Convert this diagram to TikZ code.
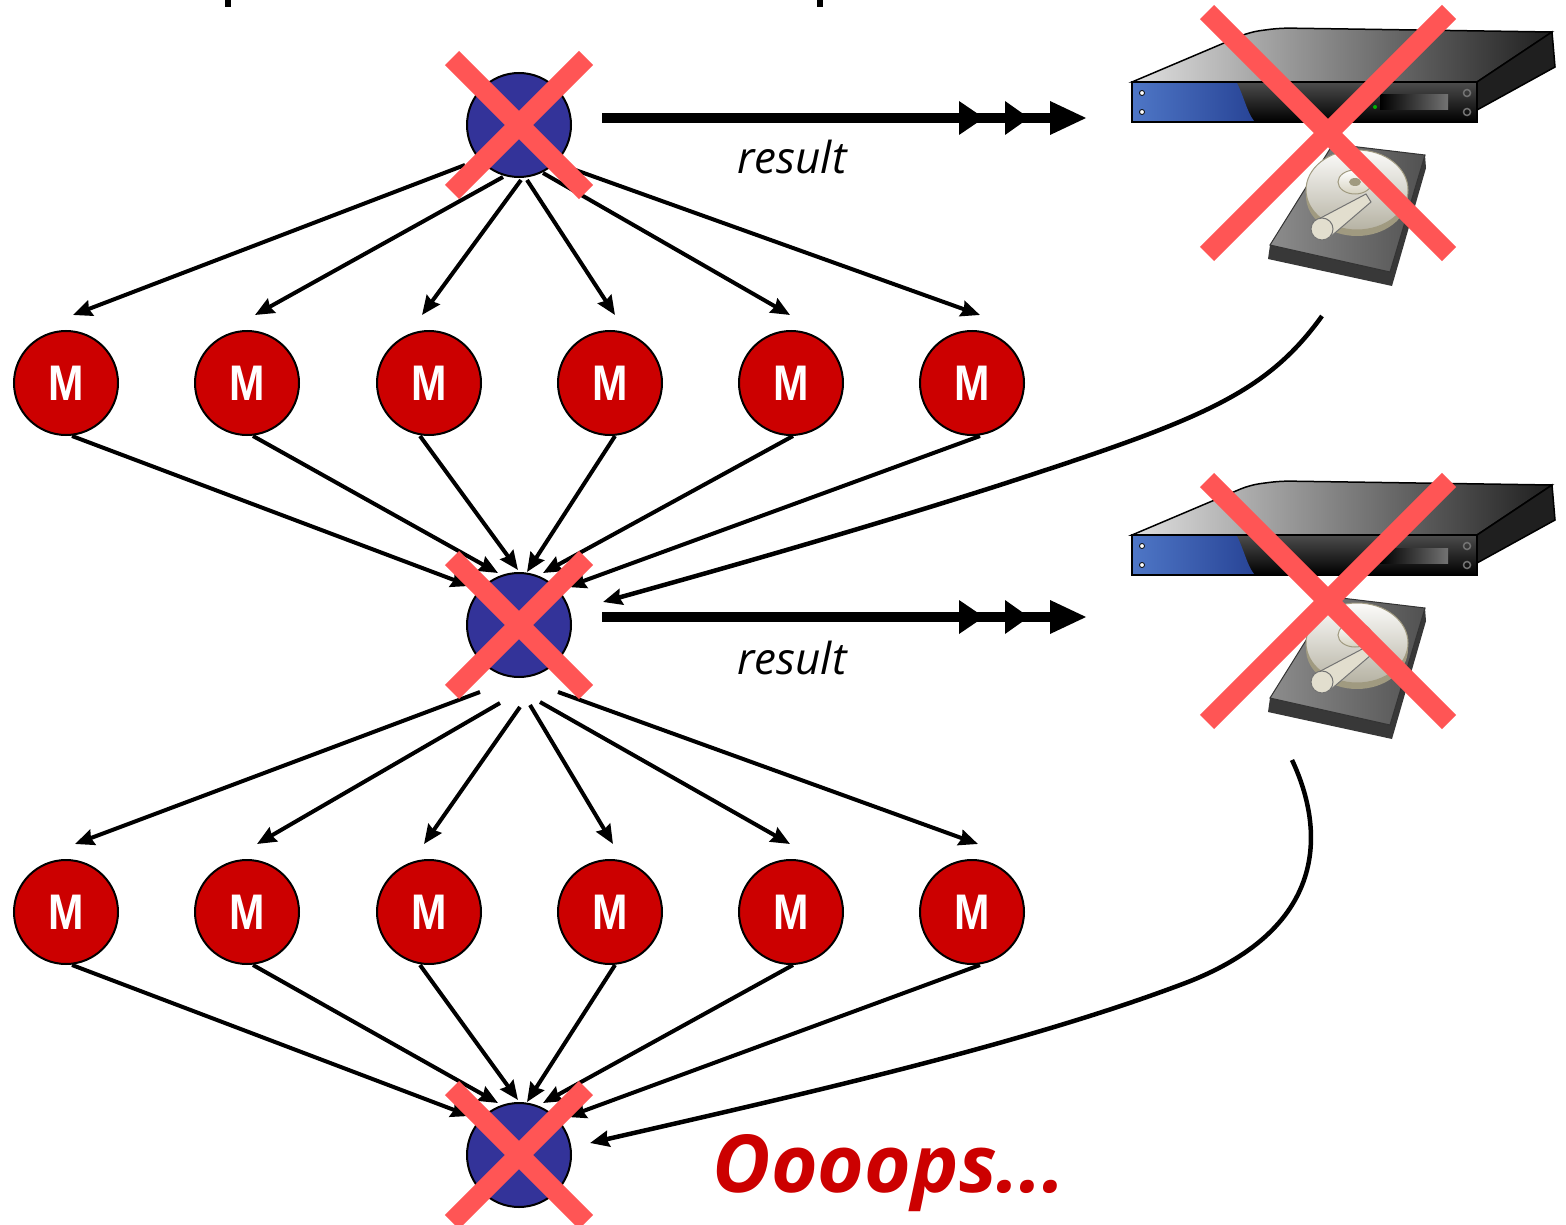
\documentclass[tikz,border=0pt]{standalone}
\usepackage{fontspec}
\setmainfont{Open Sans}
\newfontfamily\mfont{Liberation Sans}
\usetikzlibrary{arrows.meta,calc}

\definecolor{nodeblue}{RGB}{51,51,153}
\definecolor{mred}{RGB}{204,0,0}
\definecolor{crossred}{RGB}{255,85,85}
\definecolor{panelblue}{RGB}{78,118,198}
\definecolor{paneldeep}{RGB}{40,68,150}
\definecolor{platter}{RGB}{214,210,192}
\definecolor{platterrim}{RGB}{160,154,128}
\definecolor{armcol}{RGB}{226,222,206}

\newcommand\Mglyph{\scalebox{0.85}[1]{M}}

\tikzset{
  mnode/.style={circle, draw=black, line width=2pt, fill=mred, minimum size=104pt,
    inner sep=0pt, text=white, font=\mfont\bfseries\fontsize{50}{50}\selectfont},
  bnode/.style={circle, draw=black, line width=2pt, fill=nodeblue, minimum size=104pt, inner sep=0pt},
  conn/.style={line width=4pt, -{Stealth[length=19pt,width=16pt,inset=2pt]}},
  curveline/.style={line width=4.5pt, -{Stealth[length=19pt,width=16pt,inset=2pt]}},
  resline/.style={line width=10pt},
  crossline/.style={line width=20pt, crossred},
  xmark/.pic={\draw[crossline] (-#1,-#1) -- (#1,#1) (#1,-#1) -- (-#1,#1);},
  tripletip/.pic={
    \fill (-127,-17) -- (-102,0) -- (-127,17) -- cycle;
    \fill (-81,-17) -- (-57,0) -- (-81,17) -- cycle;
    \fill (-36,-17) -- (0,0) -- (-36,17) -- cycle;
  },
  server/.pic={
    % hard disk below the rack unit
    \fill[black!78] (138,163) -- (258,190) -- (293,73) -- (294,86) -- (260,204) -- (136,177) -- cycle;
    \shade[left color=black!45, right color=black!68, draw=black!80, line width=1pt]
      (201,62) -- (293,73) -- (258,190) -- (138,163) -- cycle;
    \fill[platterrim] (225,114) ellipse [x radius=51, y radius=40];
    \shade[top color=white!92!platter, bottom color=platter!85!black, draw=platterrim, line width=1pt]
      (225,108) ellipse [x radius=51, y radius=40];
    \shade[top color=white, bottom color=platter, draw=platterrim, line width=1pt]
      (223,100) ellipse [x radius=17, y radius=12];
    \fill[platterrim] (223,100) ellipse [x radius=6, y radius=4];
    \fill[armcol, draw=black!55, line width=1pt] (181,140) -- (234,112) -- (239,120) -- (197,156) -- cycle;
    \fill[armcol, draw=black!55, line width=1pt] (190,147) circle [radius=11];
    % top surface of the rack unit
    \shade[left color=black!12, right color=black!88, draw=black, line width=1.5pt]
      (0,0) [rounded corners=10pt] -- (118,-50) -- (148,-54) [sharp corners] -- (420,-50) -- (345,0) -- cycle;
    % right side
    \fill[black!88, draw=black, line width=1.5pt] (345,0) -- (420,-50) -- (423,-15) -- (345,28) -- cycle;
    % front panel
    \shade[top color=black!70, bottom color=black, draw=black, line width=1.5pt] (0,0) rectangle (345,40);
    \shade[left color=panelblue, right color=paneldeep] (1,1) -- (105,1) .. controls (112,15) and (115,30) .. (122,39) -- (1,39) -- cycle;
    \draw[black, line width=1.5pt] (0,0) rectangle (345,40);
    \fill[white, draw=black, line width=0.8pt] (10,11) circle [radius=2.5] (10,30) circle [radius=2.5];
    \shade[left color=black, right color=black!55] (248,13) rectangle (316,28);
    \fill[green!70!black] (243,25) circle [radius=2];
    \draw[black!55, line width=1.5pt] (335,11) circle [radius=3.5] (335,30) circle [radius=3.5];
  }
}

\begin{document}
\begin{tikzpicture}[x=1pt,y=-1pt]
\useasboundingbox (0,0) rectangle (1566,1225);

% cut strokes of the heading above
\fill (225,0) rectangle (231,7);
\fill (817,0) rectangle (823,7);

% master nodes
\node[bnode] (top) at (519,125) {};
\node[bnode] (mid) at (519,625) {};
\node[bnode] (bot) at (519,1155) {};

% worker nodes
\foreach \i/\x in {1/66,2/247,3/429,4/610,5/791,6/972} {
  \node[mnode] (a\i) at (\x,383) {\Mglyph};
  \node[mnode] (b\i) at (\x,912) {\Mglyph};
}

% fan-out from the first master
\foreach \i/\sx/\sy/\ex in {1/-54/40/7, 2/-16/52/8, 3/2/55/-7, 4/8/55/5, 5/24/48/-1, 6/48/42/8}
  \draw[conn] ($(top)+(\sx,\sy)$) -- ($(a\i)+(\ex,-68)$);
% fan-in to the second master
\foreach \i/\sx/\ex/\ey in {1/6/-49/-39, 2/6/-21/-52, 3/-9/-1/-55, 4/5/8/-53, 5/2/24/-52, 6/8/48/-38}
  \draw[conn] ($(a\i)+(\sx,53)$) -- ($(mid)+(\ex,\ey)$);
% fan-out from the second master
\foreach \i/\sx/\sy/\ex in {1/-39/67/9, 2/-19/78/10, 3/1/82/-5, 4/11/80/3, 5/21/77/-1, 6/39/67/6}
  \draw[conn] ($(mid)+(\sx,\sy)$) -- ($(b\i)+(\ex,-68)$);
% fan-in to the third master
\foreach \i/\sx/\ex/\ey in {1/6/-49/-39, 2/6/-21/-52, 3/-9/-1/-55, 4/5/8/-53, 5/2/24/-52, 6/8/48/-38}
  \draw[conn] ($(b\i)+(\sx,53)$) -- ($(bot)+(\ex,\ey)$);

% results written to storage
\coordinate (r1e) at (1086,118);
\coordinate (r2e) at (1086,617);
\draw[resline] ($(top)+(83,-7)$) -- ([xshift=-30pt]r1e);
\pic at (r1e) {tripletip};
\draw[resline] ($(mid)+(83,-8)$) -- ([xshift=-30pt]r2e);
\pic at (r2e) {tripletip};
\node[anchor=base, font=\itshape\fontsize{44}{44}\selectfont] (res1) at (792,174) {result};
\node[anchor=base, font=\itshape\fontsize{44}{44}\selectfont] (res2) at (792,674) {result};

% storage servers
\pic at (1132,82) {server};
\pic at (1132,535) {server};

% reads back from storage
\coordinate (c1s) at (1322,316);
\coordinate (c2s) at (1292,760);
\draw[curveline] (c1s) .. controls (1265,395) and (1200,420) .. (1000,485)
  .. controls (850,533) and (700,575) .. ($(mid)+(84,-23)$);
\draw[curveline] (c2s) .. controls (1325,830) and (1330,930) .. (1180,985)
  .. controls (1020,1045) and (800,1095) .. ($(bot)+(71,-12)$);

% failures
\pic at (top) {xmark=67};
\pic at (mid) {xmark=67};
\pic at (bot) {xmark=67};
\pic at (1328,133) {xmark=121};
\pic at (1328,601) {xmark=121};

\node[anchor=base, text=mred, font=\bfseries\itshape\fontsize{80}{80}\selectfont] (oops) at (889,1192) {Oooops...};
\end{tikzpicture}
\end{document}
